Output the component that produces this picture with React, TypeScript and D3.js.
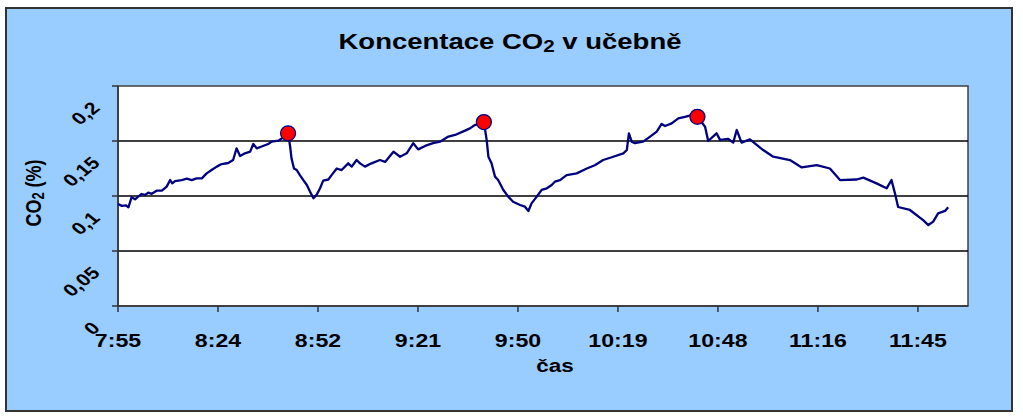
import React from "react";
import * as d3 from "d3";

// time in minutes since midnight, CO2 concentration in %
const timeMin = [
  475.0, 476.1, 477.3, 478.0, 478.5, 478.9, 479.9, 480.8, 481.8, 482.8, 483.7, 484.7, 486.1, 487.6,
  489.0, 490.0, 490.6, 491.4, 493.3, 494.8, 496.2, 497.6, 499.1, 500.5, 501.9, 503.4, 504.8, 506.7,
  508.1, 509.1, 510.1, 511.5, 513.0, 513.9, 514.9, 516.3, 518.2, 519.2, 521.1, 522.1, 523.9, 524.5,
  524.9, 525.6, 526.4, 527.3, 528.3, 529.3, 530.2, 531.2, 532.1, 533.1, 534.0, 535.5, 536.4, 537.9,
  539.3, 541.2, 542.2, 543.6, 544.6, 546.0, 547.9, 550.3, 551.8, 554.2, 556.1, 558.0, 559.9, 561.3,
  563.3, 565.6, 567.6, 570.0, 571.9, 574.8, 576.2, 577.6, 580.2, 581.0, 581.5, 582.4, 583.4, 584.3,
  585.8, 587.2, 588.6, 590.6, 592.0, 593.0, 593.9, 595.4, 596.8, 598.3, 599.7, 600.6, 602.1, 604.0,
  606.9, 609.8, 612.1, 614.5, 617.4, 620.3, 621.3, 621.9, 622.7, 623.6, 626.0, 628.0, 629.9, 631.3,
  632.3, 634.2, 636.1, 638.0, 639.9, 641.6, 643.8, 644.7, 647.1, 648.1, 650.4, 651.9, 652.9, 654.3,
  656.7, 660.5, 663.4, 668.2, 671.6, 675.9, 679.7, 682.6, 687.4, 689.3, 693.1, 696.0, 697.4, 698.4,
  699.3, 702.7, 706.5, 708.0, 709.4, 710.8, 712.8, 713.7,
];
const co2 = [
  0.0927, 0.091, 0.0915, 0.0897, 0.0948, 0.0988, 0.097, 0.0994, 0.1018, 0.101, 0.103, 0.102, 0.1048, 0.1048,
  0.1085, 0.1145, 0.1115, 0.1136, 0.1145, 0.1158, 0.1145, 0.116, 0.116, 0.1206, 0.1236, 0.1267, 0.129, 0.13,
  0.1327, 0.1433, 0.1364, 0.1388, 0.1403, 0.1473, 0.1433, 0.145, 0.1473, 0.1494, 0.1503, 0.1524, 0.157, 0.145,
  0.134, 0.125, 0.1236, 0.119, 0.1145, 0.11, 0.104, 0.098, 0.101, 0.107, 0.114, 0.115, 0.119, 0.125,
  0.1236, 0.1297, 0.1267, 0.1327, 0.1297, 0.1267, 0.1297, 0.1327, 0.131, 0.1403, 0.1357, 0.1388, 0.148, 0.1424,
  0.1455, 0.148, 0.1494, 0.154, 0.1555, 0.1594, 0.1615, 0.1645, 0.1672, 0.151, 0.1357, 0.1297, 0.1176, 0.1145,
  0.1055, 0.0994, 0.0948, 0.0918, 0.0903, 0.0864, 0.0933, 0.0994, 0.1055, 0.107, 0.11, 0.113, 0.1145, 0.119,
  0.1206, 0.125, 0.128, 0.1327, 0.1357, 0.1388, 0.1418, 0.157, 0.1494, 0.148, 0.1494, 0.154, 0.1585, 0.1655,
  0.1636, 0.166, 0.1706, 0.172, 0.1736, 0.172, 0.163, 0.15, 0.157, 0.151, 0.152, 0.1485, 0.16, 0.1485,
  0.1515, 0.1418, 0.1357, 0.1327, 0.126, 0.128, 0.125, 0.1145, 0.115, 0.1167, 0.1115, 0.107, 0.1145, 0.1024,
  0.09, 0.0873, 0.078, 0.0736, 0.0767, 0.0842, 0.0864, 0.0897,
];
const peakTimeMin = [523.9, 580.2, 641.6];
const peakCo2 = [0.157, 0.1672, 0.172];

const xTickMin = [475, 503.75, 532.5, 561.25, 590, 618.75, 647.5, 676.25, 705];
const xTickLabels = ["7:55", "8:24", "8:52", "9:21", "9:50", "10:19", "10:48", "11:16", "11:45"];
const yTicks = [0, 0.05, 0.1, 0.15, 0.2];
const yTickLabels = ["0", "0,05", "0,1", "0,15", "0,2"];

const FONT = "'Liberation Sans', Arial, sans-serif";
const SX = 1.25;

export default function App() {
  const W = 1023;
  const H = 420;
  const left = 118, right = 968, top = 86, bottom = 306;
  const x = d3.scaleLinear().domain([475, 719.4]).range([left, right]);
  const y = d3.scaleLinear().domain([0, 0.2]).range([bottom, top]);
  const pts = timeMin.map((t, i) => [t, co2[i]] as [number, number]);
  const line = d3
    .line<[number, number]>()
    .x((d) => x(d[0]))
    .y((d) => y(d[1]));

  return (
    <svg
      width={W}
      height={H}
      style={{ position: "absolute", left: 0, top: 0, background: "#fff" }}
      fontFamily={FONT}
    >
      <rect x={6} y={8} width={1006} height={403} fill="#99CCFF" stroke="#333" strokeWidth={2} />
      <text
        transform={`translate(510,49) scale(${SX},1)`}
        textAnchor="middle"
        fontSize={22}
        fontWeight="bold"
        fill="#000"
      >
        Koncentace CO<tspan fontSize={16.5} dy={3}>2</tspan>
        <tspan dy={-3}> v učebně</tspan>
      </text>

      <rect x={left} y={top} width={right - left} height={bottom - top} fill="#fff" stroke="#404040" strokeWidth={1.5} />
      {yTicks.slice(1, 4).map((v) => (
        <line key={v} x1={left} x2={right} y1={y(v)} y2={y(v)} stroke="#000" strokeWidth={1.5} />
      ))}
      <line x1={left} x2={left} y1={top} y2={bottom} stroke="#333" strokeWidth={1.5} />
      <line x1={left} x2={right} y1={bottom} y2={bottom} stroke="#333" strokeWidth={1.5} />
      {yTicks.map((v) => (
        <line key={"yt" + v} x1={left - 6} x2={left} y1={y(v)} y2={y(v)} stroke="#333" strokeWidth={1.5} />
      ))}
      {xTickMin.map((t) => (
        <line key={"xt" + t} x1={x(t)} x2={x(t)} y1={bottom} y2={bottom + 6} stroke="#333" strokeWidth={1.5} />
      ))}

      <path d={line(pts) || ""} fill="none" stroke="#000080" strokeWidth={2.3} strokeLinejoin="round" />
      {peakTimeMin.map((t, i) => (
        <circle key={"p" + i} cx={x(t)} cy={y(peakCo2[i])} r={7.5} fill="#FF0000" stroke="#000080" strokeWidth={1.3} />
      ))}

      {yTicks.map((v, i) => (
        <text
          key={"yl" + v}
          transform={`translate(101,${y(v) + 23}) scale(${SX},1) rotate(-45)`}
          textAnchor="end"
          fontSize={17}
          fontWeight="bold"
        >
          {yTickLabels[i]}
        </text>
      ))}
      {xTickMin.map((t, i) => (
        <text
          key={"xl" + t}
          transform={`translate(${x(t)},347) scale(${SX},1)`}
          textAnchor="middle"
          fontSize={18.5}
          fontWeight="bold"
        >
          {xTickLabels[i]}
        </text>
      ))}
      <text transform={`translate(555,372) scale(${SX},1)`} textAnchor="middle" fontSize={18} fontWeight="bold">
        čas
      </text>
      <text
        transform={`translate(41,193) scale(${SX},1) rotate(-90)`}
        textAnchor="middle"
        fontSize={18}
        fontWeight="bold"
      >
        CO<tspan fontSize={13} dy={2}>2</tspan>
        <tspan dy={-2}> (%)</tspan>
      </text>
    </svg>
  );
}
